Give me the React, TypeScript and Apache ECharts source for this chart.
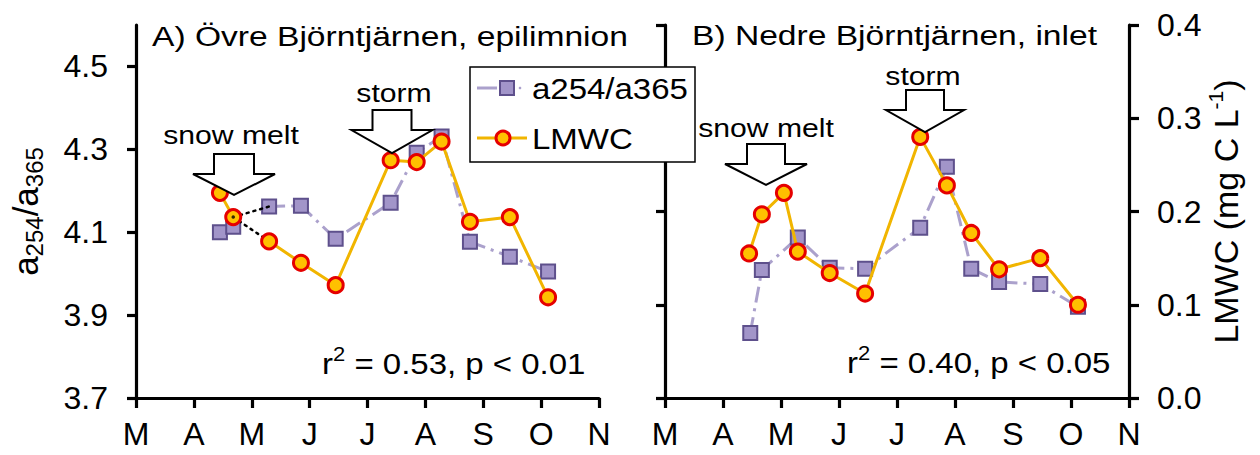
import React, { useEffect, useRef } from "react";
import * as echarts from "echarts";

// ---- data ----
const monthTicks = ["M", "A", "M", "J", "J", "A", "S", "O", "N"]; // March .. November
const monthStart = 3;

// Panel A: Övre Björntjärnen, epilimnion
const datesA = [4.45, 4.68, 5.3, 5.85, 6.45, 7.4, 7.85, 8.28, 8.77, 9.46, 10.12];
const ratioA = [4.1, 4.113, 4.162, 4.164, 4.084, 4.171, 4.292, 4.331, 4.077, 4.041, 4.005];
const lmwcA = [0.22, 0.194, 0.168, 0.145, 0.121, 0.255, 0.253, 0.275, 0.189, 0.194, 0.108];
const breakIndexA = 1; // sample joined to the next one by dotted lines

// Panel B: Nedre Björntjärnen, inlet
const datesBLmwc = [4.45, 4.67, 5.05, 5.29, 5.84, 6.45, 7.4, 7.86, 8.28, 8.76, 9.47, 10.12];
const lmwcB = [0.155, 0.197, 0.22, 0.157, 0.134, 0.112, 0.28, 0.228, 0.177, 0.138, 0.15, 0.1];
const datesBRatio = [4.47, 4.67, 5.29, 5.84, 6.45, 7.4, 7.86, 8.28, 8.76, 9.47, 10.12];
const ratioB = [3.857, 4.009, 4.087, 4.014, 4.012, 4.111, 4.258, 4.012, 3.98, 3.975, 3.92];

const ratioTicks = [3.7, 3.9, 4.1, 4.3, 4.5];
const ratioMin = 3.7;
const ratioMax = 4.6;
const lmwcMin = 0;
const lmwcMax = 0.4;
const lmwcStep = 0.1;

// ---- styles ----
const FONT = "'Liberation Sans', Arial, Helvetica, sans-serif";
const PURPLE_LINE = "#aba1cc";
const SQ_FILL = "#a295c9";
const SQ_BORDER = "#5e508c";
const ORANGE_LINE = "#f1b500";
const CIRC_FILL = "#ffc000";
const CIRC_BORDER = "#e50000";

const pairs = (xs: number[], ys: number[]) => ys.map((y, i) => [xs[i], y]);
const lmwcToRatio = (v: number) =>
  ratioMin + ((v - lmwcMin) / (lmwcMax - lmwcMin)) * (ratioMax - ratioMin);

const ratioSeriesStyle = {
  type: "line",
  symbol: "rect",
  symbolSize: 14,
  itemStyle: { color: SQ_FILL, borderColor: SQ_BORDER, borderWidth: 2 },
  lineStyle: { color: PURPLE_LINE, width: 3, type: [16, 6, 3, 6] },
  z: 2,
};
const lmwcSeriesStyle = {
  type: "line",
  symbol: "circle",
  symbolSize: 15,
  itemStyle: { color: CIRC_FILL, borderColor: CIRC_BORDER, borderWidth: 3 },
  lineStyle: { color: ORANGE_LINE, width: 3 },
  z: 4,
};
const dottedStyle = {
  type: "line",
  symbol: "none",
  lineStyle: { color: "#000", width: 2.5, type: [2, 5], cap: "round" },
  z: 3,
};

const axisLineStyle = { color: "#000", width: 3.2 };

const xAxisCommon = {
  type: "value",
  min: monthStart,
  max: monthStart + monthTicks.length - 1,
  interval: 1,
  axisLine: { lineStyle: axisLineStyle },
  axisTick: { length: 10, lineStyle: axisLineStyle },
  axisLabel: {
    formatter: (v: number) => monthTicks[Math.round(v - monthStart)],
    fontSize: 32,
    fontFamily: FONT,
    color: "#000",
    margin: 20,
  },
  splitLine: { show: false },
};

function arrow(cx: number, top: number, shaftHalf: number, headTop: number, headHalf: number, tip: number) {
  return {
    type: "polygon",
    z: 50,
    shape: {
      points: [
        [cx - shaftHalf, top],
        [cx + shaftHalf, top],
        [cx + shaftHalf, headTop],
        [cx + headHalf, headTop],
        [cx, tip],
        [cx - headHalf, headTop],
        [cx - shaftHalf, headTop],
      ],
    },
    style: { fill: "#fff", stroke: "#000", lineWidth: 2 },
  };
}

function label(text: string, x: number, y: number, size: number, sx: number, align = "center") {
  return {
    type: "text",
    x,
    y,
    scaleX: sx,
    z: 60,
    style: { text, x: 0, y: 0, align, verticalAlign: "middle", fontSize: size, fontFamily: FONT, fill: "#000" },
  };
}

function statText(r2: string, p: string, x: number, y: number) {
  return {
    type: "text",
    x,
    y,
    scaleX: 1.1,
    z: 60,
    style: {
      text: `{m|r}{sup|2}{m| = ${r2}, p < ${p}}`,
      x: 0,
      y: 0,
      align: "left",
      verticalAlign: "middle",
      rich: {
        m: { fontSize: 30, lineHeight: 40, verticalAlign: "middle", fontFamily: FONT, fill: "#000", color: "#000" },
        sup: { fontSize: 20, lineHeight: 22, verticalAlign: "top", fontFamily: FONT, fill: "#000", color: "#000" },
      },
    },
  };
}

function buildOption() {
  const pA = breakIndexA;
  return {
    animation: false,
    backgroundColor: "#fff",
    grid: [
      { left: 136, top: 25, width: 463, height: 373 },
      { left: 665, top: 25, width: 464, height: 373 },
    ],
    xAxis: [
      { ...xAxisCommon, gridIndex: 0 },
      { ...xAxisCommon, gridIndex: 1 },
    ],
    yAxis: [
      {
        gridIndex: 0,
        type: "value",
        position: "left",
        min: ratioMin,
        max: ratioMax,
        axisLine: { show: true, lineStyle: axisLineStyle },
        axisTick: { show: true, length: 9, lineStyle: axisLineStyle, customValues: ratioTicks },
        axisLabel: {
          customValues: ratioTicks,
          formatter: (v: number) => v.toFixed(1),
          fontSize: 32,
          fontFamily: FONT,
          color: "#000",
          margin: 28,
        },
        splitLine: { show: false },
        name: "{m|a}{s|254}{m|/a}{s|365}",
        nameLocation: "middle",
        nameRotate: 90,
        nameGap: 90,
        nameTextStyle: {
          rich: {
            m: { fontSize: 35, lineHeight: 42, verticalAlign: "middle", fontFamily: FONT, color: "#000" },
            s: { fontSize: 24, lineHeight: 24, verticalAlign: "bottom", fontFamily: FONT, color: "#000" },
          },
        },
      },
      { gridIndex: 0, type: "value", show: false, min: lmwcMin, max: lmwcMax },
      {
        gridIndex: 1,
        type: "value",
        position: "left",
        min: lmwcMin,
        max: lmwcMax,
        interval: lmwcStep,
        axisLine: { show: true, lineStyle: axisLineStyle },
        axisTick: { show: true, length: 9, lineStyle: axisLineStyle },
        axisLabel: { show: false },
        splitLine: { show: false },
      },
      {
        gridIndex: 1,
        type: "value",
        position: "right",
        min: lmwcMin,
        max: lmwcMax,
        interval: lmwcStep,
        axisLine: { show: true, lineStyle: axisLineStyle },
        axisTick: { show: true, length: 10, lineStyle: axisLineStyle },
        axisLabel: {
          formatter: (v: number) => v.toFixed(1),
          fontSize: 32,
          fontFamily: FONT,
          color: "#000",
          margin: 28,
        },
        splitLine: { show: false },
        name: "{m|LMWC (mg C L}{sup|-1}{m|)}",
        nameLocation: "middle",
        nameRotate: 90,
        nameGap: 71,
        nameTextStyle: {
          rich: {
            m: { fontSize: 34, lineHeight: 42, verticalAlign: "middle", fontFamily: FONT, color: "#000" },
            sup: { fontSize: 21, lineHeight: 21, verticalAlign: "top", fontFamily: FONT, color: "#000" },
          },
        },
      },
      { gridIndex: 1, type: "value", show: false, min: ratioMin, max: ratioMax },
    ],
    series: [
      // Panel A
      { ...ratioSeriesStyle, name: "a254/a365", xAxisIndex: 0, yAxisIndex: 0, data: pairs(datesA, ratioA).slice(0, pA + 1) },
      { ...ratioSeriesStyle, name: "a254/a365", xAxisIndex: 0, yAxisIndex: 0, data: pairs(datesA, ratioA).slice(pA + 1) },
      {
        ...dottedStyle,
        xAxisIndex: 0,
        yAxisIndex: 0,
        data: [
          [datesA[pA], lmwcToRatio(lmwcA[pA])],
          [datesA[pA + 1], ratioA[pA + 1]],
        ],
      },
      {
        ...dottedStyle,
        xAxisIndex: 0,
        yAxisIndex: 1,
        data: [
          [datesA[pA], lmwcA[pA]],
          [datesA[pA + 1], lmwcA[pA + 1]],
        ],
      },
      { ...lmwcSeriesStyle, name: "LMWC", xAxisIndex: 0, yAxisIndex: 1, data: pairs(datesA, lmwcA).slice(0, pA + 1) },
      { ...lmwcSeriesStyle, name: "LMWC", xAxisIndex: 0, yAxisIndex: 1, data: pairs(datesA, lmwcA).slice(pA + 1) },
      {
        type: "scatter",
        xAxisIndex: 0,
        yAxisIndex: 1,
        symbol: "circle",
        symbolSize: 3.5,
        itemStyle: { color: "#000" },
        z: 6,
        data: [[datesA[pA], lmwcA[pA]]],
      },
      // Panel B
      { ...ratioSeriesStyle, name: "a254/a365", xAxisIndex: 1, yAxisIndex: 4, data: pairs(datesBRatio, ratioB) },
      { ...lmwcSeriesStyle, name: "LMWC", xAxisIndex: 1, yAxisIndex: 3, data: pairs(datesBLmwc, lmwcB) },
    ],
    graphic: [
      label("A) Övre Björntjärnen, epilimnion", 152, 36, 28, 1.2, "left"),
      label("B) Nedre Björntjärnen, inlet", 692, 35, 28, 1.2, "left"),
      arrow(234, 154, 20, 174, 41, 195),
      arrow(392, 110, 19.5, 130, 40.5, 153),
      arrow(766, 144, 19, 164, 41, 185),
      arrow(925, 90, 19, 110, 39, 132),
      label("snow melt", 231, 135, 26, 1.16),
      label("storm", 394, 93, 26, 1.16),
      label("snow melt", 766, 128, 26, 1.16),
      label("storm", 923, 76, 26, 1.16),
      statText("0.53", "0.01", 322, 364),
      statText("0.40", "0.05", 847, 363),
      // legend
      {
        type: "rect",
        z: 70,
        shape: { x: 470, y: 67, width: 225, height: 95 },
        style: { fill: "#fff", stroke: "#000", lineWidth: 1.5 },
      },
      { type: "line", z: 71, shape: { x1: 477, y1: 88, x2: 497, y2: 88 }, style: { stroke: PURPLE_LINE, lineWidth: 3 } },
      {
        type: "rect",
        z: 72,
        shape: { x: 500, y: 81, width: 14, height: 14 },
        style: { fill: SQ_FILL, stroke: SQ_BORDER, lineWidth: 2 },
      },
      { type: "circle", z: 72, shape: { cx: 520, cy: 88, r: 1.3 }, style: { fill: PURPLE_LINE } },
      { type: "line", z: 71, shape: { x1: 477, y1: 138, x2: 527, y2: 138 }, style: { stroke: ORANGE_LINE, lineWidth: 3 } },
      {
        type: "circle",
        z: 72,
        shape: { cx: 503, cy: 138, r: 7 },
        style: { fill: CIRC_FILL, stroke: CIRC_BORDER, lineWidth: 3 },
      },
      { ...label("a254/a365", 532, 89, 30, 1.1, "left"), z: 73 },
      { ...label("LMWC", 532, 139, 30, 1.1, "left"), z: 73 },
    ],
  };
}

export default function App() {
  const ref = useRef<HTMLDivElement>(null);
  useEffect(() => {
    if (!ref.current) return;
    const chart = echarts.init(ref.current, null, { renderer: "svg" });
    chart.setOption(buildOption() as any);
    return () => chart.dispose();
  }, []);
  return (
    <div
      ref={ref}
      style={{ position: "fixed", left: 0, top: 0, width: 1260, height: 455, background: "#fff" }}
    />
  );
}
